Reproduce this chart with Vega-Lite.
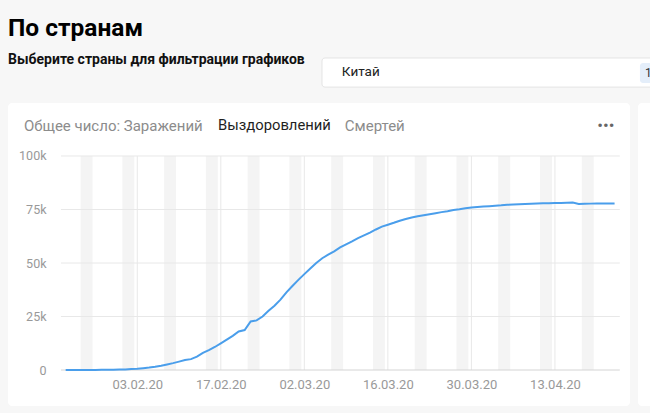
{
  "$schema": "https://vega.github.io/schema/vega-lite/v6.json",
  "autosize": "none",
  "width": 622,
  "height": 303,
  "padding": {"left": 8, "top": 103, "right": 20, "bottom": 7},
  "background": "#f7f7f7",
  "title": {
    "text": "По странам",
    "subtitle": "Выберите страны для фильтрации графиков",
    "anchor": "start",
    "frame": "group",
    "font": "Roboto",
    "fontSize": 24.5,
    "fontWeight": "bold",
    "color": "#000000",
    "subtitleFont": "Roboto",
    "subtitleFontSize": 14,
    "subtitleFontWeight": "bold",
    "subtitleColor": "#111111",
    "subtitlePadding": 12,
    "offset": -11
  },
  "datasets": {
    "recovered": [
      {"date": "2020-01-22", "recovered": 28},
      {"date": "2020-01-23", "recovered": 30},
      {"date": "2020-01-24", "recovered": 36},
      {"date": "2020-01-25", "recovered": 39},
      {"date": "2020-01-26", "recovered": 49},
      {"date": "2020-01-27", "recovered": 58},
      {"date": "2020-01-28", "recovered": 101},
      {"date": "2020-01-29", "recovered": 120},
      {"date": "2020-01-30", "recovered": 135},
      {"date": "2020-01-31", "recovered": 214},
      {"date": "2020-02-01", "recovered": 275},
      {"date": "2020-02-02", "recovered": 463},
      {"date": "2020-02-03", "recovered": 614},
      {"date": "2020-02-04", "recovered": 843},
      {"date": "2020-02-05", "recovered": 1115},
      {"date": "2020-02-06", "recovered": 1476},
      {"date": "2020-02-07", "recovered": 1998},
      {"date": "2020-02-08", "recovered": 2595},
      {"date": "2020-02-09", "recovered": 3218},
      {"date": "2020-02-10", "recovered": 3917},
      {"date": "2020-02-11", "recovered": 4635},
      {"date": "2020-02-12", "recovered": 5079},
      {"date": "2020-02-13", "recovered": 6213},
      {"date": "2020-02-14", "recovered": 7973},
      {"date": "2020-02-15", "recovered": 9294},
      {"date": "2020-02-16", "recovered": 10748},
      {"date": "2020-02-17", "recovered": 12455},
      {"date": "2020-02-18", "recovered": 14199},
      {"date": "2020-02-19", "recovered": 15952},
      {"date": "2020-02-20", "recovered": 18002},
      {"date": "2020-02-21", "recovered": 18693},
      {"date": "2020-02-22", "recovered": 22687},
      {"date": "2020-02-23", "recovered": 23170},
      {"date": "2020-02-24", "recovered": 24990},
      {"date": "2020-02-25", "recovered": 27650},
      {"date": "2020-02-26", "recovered": 30053},
      {"date": "2020-02-27", "recovered": 32898},
      {"date": "2020-02-28", "recovered": 36291},
      {"date": "2020-02-29", "recovered": 39279},
      {"date": "2020-03-01", "recovered": 42118},
      {"date": "2020-03-02", "recovered": 44810},
      {"date": "2020-03-03", "recovered": 47404},
      {"date": "2020-03-04", "recovered": 49955},
      {"date": "2020-03-05", "recovered": 52240},
      {"date": "2020-03-06", "recovered": 53888},
      {"date": "2020-03-07", "recovered": 55478},
      {"date": "2020-03-08", "recovered": 57320},
      {"date": "2020-03-09", "recovered": 58735},
      {"date": "2020-03-10", "recovered": 60106},
      {"date": "2020-03-11", "recovered": 61644},
      {"date": "2020-03-12", "recovered": 62901},
      {"date": "2020-03-13", "recovered": 64196},
      {"date": "2020-03-14", "recovered": 65660},
      {"date": "2020-03-15", "recovered": 67017},
      {"date": "2020-03-16", "recovered": 67910},
      {"date": "2020-03-17", "recovered": 68798},
      {"date": "2020-03-18", "recovered": 69755},
      {"date": "2020-03-19", "recovered": 70535},
      {"date": "2020-03-20", "recovered": 71266},
      {"date": "2020-03-21", "recovered": 71857},
      {"date": "2020-03-22", "recovered": 72362},
      {"date": "2020-03-23", "recovered": 72814},
      {"date": "2020-03-24", "recovered": 73280},
      {"date": "2020-03-25", "recovered": 73773},
      {"date": "2020-03-26", "recovered": 74181},
      {"date": "2020-03-27", "recovered": 74720},
      {"date": "2020-03-28", "recovered": 75100},
      {"date": "2020-03-29", "recovered": 75582},
      {"date": "2020-03-30", "recovered": 75923},
      {"date": "2020-03-31", "recovered": 76206},
      {"date": "2020-04-01", "recovered": 76405},
      {"date": "2020-04-02", "recovered": 76565},
      {"date": "2020-04-03", "recovered": 76760},
      {"date": "2020-04-04", "recovered": 76946},
      {"date": "2020-04-05", "recovered": 77207},
      {"date": "2020-04-06", "recovered": 77310},
      {"date": "2020-04-07", "recovered": 77410},
      {"date": "2020-04-08", "recovered": 77567},
      {"date": "2020-04-09", "recovered": 77679},
      {"date": "2020-04-10", "recovered": 77791},
      {"date": "2020-04-11", "recovered": 77877},
      {"date": "2020-04-12", "recovered": 77956},
      {"date": "2020-04-13", "recovered": 78034},
      {"date": "2020-04-14", "recovered": 78088},
      {"date": "2020-04-15", "recovered": 78168},
      {"date": "2020-04-16", "recovered": 78244},
      {"date": "2020-04-17", "recovered": 77610},
      {"date": "2020-04-18", "recovered": 77663},
      {"date": "2020-04-19", "recovered": 77745},
      {"date": "2020-04-20", "recovered": 77766},
      {"date": "2020-04-21", "recovered": 77779},
      {"date": "2020-04-22", "recovered": 77791},
      {"date": "2020-04-23", "recovered": 77853}
    ],
    "weekends": [
      {"from": "2020-01-24T12:00:00Z", "to": "2020-01-26T12:00:00Z"},
      {"from": "2020-01-31T12:00:00Z", "to": "2020-02-02T12:00:00Z"},
      {"from": "2020-02-07T12:00:00Z", "to": "2020-02-09T12:00:00Z"},
      {"from": "2020-02-14T12:00:00Z", "to": "2020-02-16T12:00:00Z"},
      {"from": "2020-02-21T12:00:00Z", "to": "2020-02-23T12:00:00Z"},
      {"from": "2020-02-28T12:00:00Z", "to": "2020-03-01T12:00:00Z"},
      {"from": "2020-03-06T12:00:00Z", "to": "2020-03-08T12:00:00Z"},
      {"from": "2020-03-13T12:00:00Z", "to": "2020-03-15T12:00:00Z"},
      {"from": "2020-03-20T12:00:00Z", "to": "2020-03-22T12:00:00Z"},
      {"from": "2020-03-27T12:00:00Z", "to": "2020-03-29T12:00:00Z"},
      {"from": "2020-04-03T12:00:00Z", "to": "2020-04-05T12:00:00Z"},
      {"from": "2020-04-10T12:00:00Z", "to": "2020-04-12T12:00:00Z"},
      {"from": "2020-04-17T12:00:00Z", "to": "2020-04-19T12:00:00Z"}
    ],
    "levels": [
      {"level": 25000},
      {"level": 50000},
      {"level": 75000},
      {"level": 100000}
    ],
    "mondays": [
      {"monday": "2020-02-03"},
      {"monday": "2020-02-17"},
      {"monday": "2020-03-02"},
      {"monday": "2020-03-16"},
      {"monday": "2020-03-30"},
      {"monday": "2020-04-13"}
    ]
  },
  "layer": [
    {
      "data": {"values": [{}]},
      "mark": {"type": "rect", "fill": "#ffffff", "cornerRadius": 4},
      "encoding": {
        "x": {"datum": {"year": 2020, "month": 4, "date": 26, "hours": 22, "utc": true}},
        "x2": {"datum": {"year": 2020, "month": 5, "date": 10, "utc": true}},
        "y": {"datum": 124766},
        "y2": {"datum": -16822}
      }
    },
    {
      "data": {"values": [{}]},
      "mark": {"type": "rect", "fill": "#ffffff", "stroke": "#e4e4e4", "strokeWidth": 1, "cornerRadius": 3},
      "encoding": {
        "x": {"datum": {"year": 2020, "month": 3, "date": 4, "hours": 23, "utc": true}},
        "x2": {"datum": {"year": 2020, "month": 5, "date": 10, "utc": true}},
        "y": {"datum": 145800},
        "y2": {"datum": 132200}
      }
    },
    {
      "data": {"values": [{}]},
      "mark": {"type": "rect", "fill": "#e4eefa", "cornerRadius": 3},
      "encoding": {
        "x": {"datum": {"year": 2020, "month": 4, "date": 27, "hours": 6, "utc": true}},
        "x2": {"datum": {"year": 2020, "month": 5, "date": 10, "utc": true}},
        "y": {"datum": 143400},
        "y2": {"datum": 134100}
      }
    },
    {
      "data": {"values": [{}]},
      "mark": {"type": "text", "text": "1", "font": "Roboto", "fontSize": 12, "color": "#333333", "align": "left", "baseline": "middle"},
      "encoding": {
        "x": {"datum": {"year": 2020, "month": 4, "date": 28, "hours": 2, "utc": true}},
        "y": {"datum": 138750}
      }
    },
    {
      "data": {"values": [{}]},
      "mark": {"type": "text", "text": "Китай", "font": "Roboto", "fontSize": 13.5, "color": "#222222", "align": "left", "baseline": "middle"},
      "encoding": {
        "x": {"datum": {"year": 2020, "month": 3, "date": 8, "hours": 7, "utc": true}},
        "y": {"datum": 139250}
      }
    },
    {
      "data": {"values": [{}]},
      "mark": {"type": "text", "text": "Общее число: Заражений", "font": "Roboto", "fontSize": 15, "color": "#8c8c8c", "align": "left", "baseline": "middle"},
      "encoding": {
        "x": {"datum": {"year": 2020, "month": 1, "date": 15, "utc": true}},
        "y": {"datum": 114000}
      }
    },
    {
      "data": {"values": [{}]},
      "mark": {"type": "text", "text": "Выздоровлений", "font": "Roboto", "fontSize": 14.8, "color": "#1f1f1f", "align": "left", "baseline": "middle"},
      "encoding": {
        "x": {"datum": {"year": 2020, "month": 2, "date": 16, "hours": 13, "utc": true}},
        "y": {"datum": 114000}
      }
    },
    {
      "data": {"values": [{}]},
      "mark": {"type": "text", "text": "Смертей", "font": "Roboto", "fontSize": 15, "color": "#8c8c8c", "align": "left", "baseline": "middle"},
      "encoding": {
        "x": {"datum": {"year": 2020, "month": 3, "date": 8, "hours": 19, "utc": true}},
        "y": {"datum": 114000}
      }
    },
    {
      "data": {"values": [{}]},
      "mark": {"type": "text", "text": "•••", "font": "Roboto", "fontSize": 17, "color": "#666666", "align": "center", "baseline": "middle"},
      "encoding": {
        "x": {"datum": {"year": 2020, "month": 4, "date": 21, "hours": 13, "utc": true}},
        "y": {"datum": 114000}
      }
    },
    {
      "data": {"name": "weekends"},
      "mark": {"type": "rect", "fill": "#f4f4f4"},
      "encoding": {
        "x": {"field": "from", "type": "temporal"},
        "x2": {"field": "to"},
        "y": {"datum": 0},
        "y2": {"datum": 100000}
      }
    },
    {
      "data": {"name": "levels"},
      "mark": {"type": "rule", "color": "#e8e8e8", "strokeWidth": 1},
      "encoding": {
        "x": {"datum": {"year": 2020, "month": 1, "date": 21, "hours": 5, "utc": true}},
        "x2": {"datum": {"year": 2020, "month": 4, "date": 23, "hours": 21, "utc": true}},
        "y": {"field": "level", "type": "quantitative"}
      }
    },
    {
      "data": {"name": "mondays"},
      "mark": {"type": "rule", "color": "#e8e8e8", "strokeWidth": 1},
      "encoding": {
        "x": {"field": "monday", "type": "temporal"},
        "y": {"datum": 0},
        "y2": {"datum": 100000}
      }
    },
    {
      "data": {"values": [{}]},
      "mark": {"type": "rule", "color": "#d4d4d4", "strokeWidth": 1},
      "encoding": {
        "x": {"datum": {"year": 2020, "month": 1, "date": 21, "hours": 5, "utc": true}},
        "x2": {"datum": {"year": 2020, "month": 4, "date": 23, "hours": 21, "utc": true}},
        "y": {"datum": 0}
      }
    },
    {
      "data": {"name": "recovered"},
      "mark": {"type": "line", "color": "#4a9eeb", "strokeWidth": 2},
      "encoding": {
        "x": {
          "field": "date",
          "type": "temporal",
          "scale": {
            "type": "utc",
            "domain": [
              {"year": 2020, "month": 1, "date": 12, "hours": 8, "utc": true},
              {"year": 2020, "month": 4, "date": 25, "hours": 14, "utc": true}
            ]
          },
          "axis": {
            "title": null,
            "values": [
              {"year": 2020, "month": 2, "date": 3, "utc": true},
              {"year": 2020, "month": 2, "date": 17, "utc": true},
              {"year": 2020, "month": 3, "date": 2, "utc": true},
              {"year": 2020, "month": 3, "date": 16, "utc": true},
              {"year": 2020, "month": 3, "date": 30, "utc": true},
              {"year": 2020, "month": 4, "date": 13, "utc": true}
            ],
            "format": "%d.%m.%y",
            "offset": -36,
            "domain": false,
            "ticks": false,
            "grid": false,
            "labelPadding": 8,
            "labelFont": "Roboto",
            "labelFontSize": 13,
            "labelColor": "#999999"
          }
        },
        "y": {
          "field": "recovered",
          "type": "quantitative",
          "scale": {"domain": [-16822, 124766], "nice": false, "zero": false},
          "axis": {
            "title": null,
            "values": [0, 25000, 50000, 75000, 100000],
            "labelExpr": "datum.value == 0 ? '0' : datum.value / 1000 + 'k'",
            "offset": -53,
            "domain": false,
            "ticks": false,
            "grid": false,
            "labelPadding": 15,
            "labelFont": "Roboto",
            "labelFontSize": 12.5,
            "labelColor": "#999999"
          }
        }
      }
    }
  ],
  "config": {
    "view": {"fill": "#ffffff", "stroke": null, "cornerRadius": 4}
  }
}
